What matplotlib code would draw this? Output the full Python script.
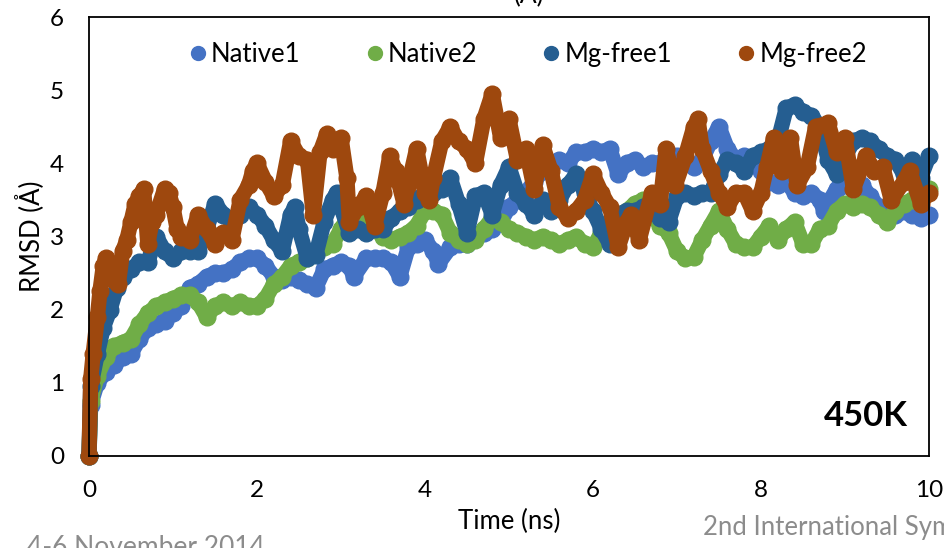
import matplotlib.pyplot as plt
from matplotlib.lines import Line2D

# RMSD traces, time in ns, RMSD in angstrom
native1_t = [0, 0.02, 0.1, 0.2, 0.3, 0.4, 0.5, 0.6, 0.7, 0.8, 0.9, 1.0, 1.1, 1.2, 1.3, 1.4, 1.5,
             1.6, 1.7, 1.8, 1.9, 2.0, 2.1, 2.2, 2.3, 2.4, 2.5, 2.6, 2.7, 2.8, 2.9, 3.0, 3.1, 3.15,
             3.3, 3.4, 3.5, 3.6, 3.7, 3.8, 3.9, 4.0, 4.1, 4.16, 4.3, 4.4, 4.5, 4.6, 4.7, 4.8, 4.9,
             5.0, 5.1, 5.2, 5.3, 5.4, 5.5, 5.6, 5.7, 5.8, 5.9, 6.0, 6.1, 6.2, 6.3, 6.4, 6.5, 6.6,
             6.7, 6.8, 6.9, 7.0, 7.1, 7.2, 7.3, 7.4, 7.5, 7.6, 7.7, 7.8, 7.9, 8.0, 8.1, 8.2, 8.3,
             8.4, 8.5, 8.6, 8.7, 8.75, 8.8, 8.9, 9.0, 9.1, 9.2, 9.3, 9.4, 9.5, 9.6, 9.7, 9.8, 9.9, 10.0]
native1 = [0, 0.7, 1.0, 1.15, 1.25, 1.35, 1.4, 1.6, 1.75, 1.8, 1.85, 1.95, 2.05, 2.3, 2.35, 2.45, 2.5,
           2.5, 2.55, 2.65, 2.7, 2.7, 2.6, 2.45, 2.4, 2.45, 2.4, 2.35, 2.3, 2.55, 2.6, 2.65, 2.6, 2.45,
           2.7, 2.7, 2.7, 2.65, 2.45, 2.85, 2.9, 2.95, 2.8, 2.63, 2.85, 2.9, 2.9, 3.0, 3.05, 3.1, 3.2,
           3.4, 3.5, 3.6, 3.75, 3.9, 4.0, 4.05, 4.0, 4.15, 4.15, 4.2, 4.15, 4.2, 3.85, 4.0, 4.05, 3.95,
           4.0, 4.0, 4.05, 4.1, 4.0, 3.95, 4.05, 4.3, 4.5, 4.2, 4.05, 4.1, 4.0, 3.9, 3.75, 3.7, 3.75,
           3.6, 3.55, 3.6, 3.5, 3.35, 3.45, 3.65, 3.7, 3.65, 3.7, 3.55, 3.4, 3.35, 3.3, 3.35, 3.3, 3.25, 3.3]

native2_t = [0, 0.02, 0.1, 0.2, 0.3, 0.4, 0.5, 0.6, 0.7, 0.8, 0.9, 1.0, 1.1, 1.2, 1.3, 1.4, 1.5,
             1.6, 1.7, 1.8, 1.9, 2.0, 2.1, 2.2, 2.3, 2.4, 2.5, 2.6, 2.7, 2.8, 2.9, 3.0, 3.1, 3.2,
             3.3, 3.4, 3.5, 3.6, 3.7, 3.8, 3.9, 4.0, 4.1, 4.2, 4.3, 4.4, 4.5, 4.6, 4.7, 4.8, 4.9,
             5.0, 5.1, 5.2, 5.3, 5.4, 5.5, 5.6, 5.7, 5.8, 5.9, 6.0, 6.1, 6.2, 6.3, 6.4, 6.5, 6.6,
             6.7, 6.8, 6.9, 7.0, 7.1, 7.2, 7.3, 7.4, 7.5, 7.6, 7.7, 7.8, 7.9, 8.0, 8.1, 8.2, 8.3,
             8.4, 8.5, 8.6, 8.7, 8.8, 8.9, 9.0, 9.1, 9.2, 9.3, 9.4, 9.5, 9.6, 9.7, 9.8, 9.9, 10.0]
native2 = [0, 0.75, 1.1, 1.35, 1.5, 1.55, 1.6, 1.8, 1.95, 2.05, 2.1, 2.15, 2.2, 2.2, 2.1, 1.9, 2.05,
           2.1, 2.05, 2.1, 2.05, 2.05, 2.15, 2.35, 2.45, 2.6, 2.65, 2.7, 2.8, 2.85, 2.9, 3.1, 3.3, 3.4,
           3.3, 3.1, 3.0, 2.95, 3.0, 3.05, 3.15, 3.35, 3.35, 3.3, 3.05, 2.95, 2.9, 2.95, 3.1, 3.25, 3.2,
           3.1, 3.05, 3.0, 2.95, 3.0, 2.95, 2.9, 2.95, 3.0, 2.9, 2.85, 3.05, 3.2, 3.3, 3.35, 3.45, 3.5,
           3.3, 3.15, 3.05, 2.8, 2.7, 2.72, 2.95, 3.15, 3.35, 3.1, 2.9, 2.85, 2.85, 3.0, 3.15, 2.95, 3.1,
           3.2, 2.9, 2.9, 3.1, 3.15, 3.35, 3.45, 3.4, 3.45, 3.4, 3.3, 3.2, 3.35, 3.45, 3.5, 3.6, 3.65]

mgfree1_t = [0, 0.02, 0.1, 0.17, 0.25, 0.33, 0.4, 0.5, 0.6, 0.7, 0.8, 0.9, 1.0, 1.1, 1.2, 1.3, 1.4,
             1.5, 1.6, 1.7, 1.8, 1.9, 2.0, 2.1, 2.2, 2.3, 2.4, 2.45, 2.5, 2.6, 2.7, 2.8, 2.9, 2.95,
             3.0, 3.1, 3.2, 3.3, 3.4, 3.5, 3.6, 3.7, 3.8, 3.9, 4.0, 4.1, 4.2, 4.3, 4.4, 4.5, 4.6,
             4.7, 4.8, 4.9, 5.0, 5.1, 5.2, 5.3, 5.4, 5.5, 5.6, 5.7, 5.8, 5.9, 6.0, 6.1, 6.2, 6.3,
             6.4, 6.5, 6.6, 6.7, 6.8, 6.9, 7.0, 7.1, 7.2, 7.3, 7.4, 7.5, 7.6, 7.7, 7.8, 7.9, 8.0,
             8.1, 8.2, 8.3, 8.4, 8.5, 8.6, 8.7, 8.8, 8.9, 9.0, 9.1, 9.2, 9.3, 9.4, 9.5, 9.6, 9.7,
             9.8, 9.9, 10.0]
mgfree1 = [0, 0.95, 1.4, 1.75, 2.0, 2.3, 2.45, 2.55, 2.65, 2.65, 3.0, 2.8, 2.7, 2.8, 2.8, 2.8, 3.1,
           3.45, 3.3, 3.2, 3.3, 3.4, 3.3, 3.15, 2.95, 2.8, 3.3, 3.4, 3.1, 2.7, 2.75, 3.2, 3.5, 3.6,
           3.4, 3.05, 3.1, 3.05, 3.1, 3.1, 3.25, 3.35, 3.4, 3.5, 3.6, 3.6, 3.65, 3.8, 3.45, 3.05, 3.55,
           3.6, 3.3, 3.7, 3.95, 3.6, 3.45, 3.3, 3.5, 3.35, 3.5, 3.7, 3.85, 3.6, 3.35, 3.1, 2.9, 3.3,
           3.35, 3.35, 3.4, 3.35, 3.25, 3.2, 3.55, 3.6, 3.55, 3.6, 3.6, 3.85, 4.05, 4.0, 3.9, 4.1, 4.15,
           4.2, 4.3, 4.75, 4.8, 4.7, 4.65, 4.5, 4.05, 3.85, 4.1, 4.3, 4.35, 4.3, 4.2, 4.1, 4.05, 3.85,
           4.05, 3.8, 4.1]

mgfree2_t = [0, 0.02, 0.05, 0.1, 0.13, 0.17, 0.2, 0.25, 0.3, 0.35, 0.4, 0.45, 0.5, 0.55, 0.6, 0.65,
             0.7, 0.75, 0.8, 0.9, 0.95, 1.0, 1.05, 1.1, 1.2, 1.3, 1.4, 1.5, 1.6, 1.7, 1.8, 1.9, 1.95,
             2.0, 2.1, 2.2, 2.3, 2.4, 2.5, 2.6, 2.67, 2.75, 2.83, 2.9, 3.0, 3.07, 3.1, 3.2, 3.3, 3.4,
             3.5, 3.58, 3.65, 3.75, 3.8, 3.9, 4.0, 4.05, 4.1, 4.2, 4.3, 4.4, 4.5, 4.6, 4.7, 4.8, 4.9,
             5.0, 5.1, 5.2, 5.3, 5.4, 5.5, 5.6, 5.7, 5.8, 5.9, 6.0, 6.1, 6.2, 6.3, 6.4, 6.45, 6.55,
             6.7, 6.8, 6.87, 6.98, 7.1, 7.2, 7.25, 7.3, 7.4, 7.5, 7.6, 7.7, 7.8, 7.9, 8.0, 8.07, 8.15,
             8.25, 8.35, 8.43, 8.55, 8.65, 8.8, 8.9, 9.0, 9.1, 9.25, 9.35, 9.45, 9.55, 9.7, 9.77,
             9.9, 10.0]
mgfree2 = [0, 1.05, 1.4, 1.9, 2.25, 2.6, 2.7, 2.6, 2.4, 2.35, 2.8, 2.95, 3.2, 3.45, 3.55, 3.65,
           2.9, 3.2, 3.3, 3.65, 3.6, 3.4, 3.1, 3.0, 2.95, 3.3, 3.1, 2.9, 3.05, 2.95, 3.5, 3.7, 3.9,
           4.0, 3.75, 3.55, 3.7, 4.3, 4.1, 4.05, 3.3, 4.15, 4.4, 4.2, 4.35, 3.8, 3.2, 3.4, 3.55, 3.15,
           3.6, 4.1, 3.9, 3.45, 3.7, 4.2, 3.6, 3.5, 3.8, 4.3, 4.5, 4.3, 4.2, 4.0, 4.6, 4.95, 4.35,
           4.6, 4.05, 4.2, 3.65, 4.25, 3.9, 3.4, 3.25, 3.35, 3.5, 3.85, 3.6, 3.4, 2.85, 3.2, 3.3, 2.95,
           3.6, 3.45, 4.2, 3.7, 4.1, 4.5, 4.6, 4.2, 3.9, 3.6, 3.4, 3.6, 3.6, 3.35, 3.6, 3.95, 4.35,
           3.9, 4.35, 3.7, 3.95, 4.5, 4.55, 4.15, 4.35, 3.65, 4.1, 3.9, 3.95, 3.5, 3.75, 3.9,
           3.45, 3.6]

labels = ['Native1', 'Native2', 'Mg-free1', 'Mg-free2']
colors = ['#4472C4', '#70AD47', '#255E91', '#9E480E']

plt.rcParams['font.family'] = ['Lato', 'DejaVu Sans']

fig = plt.figure(figsize=(9.44, 5.48), dpi=100)
ax = fig.add_axes([89 / 944, 1 - 456 / 548, 840 / 944, 439 / 548])

series = [(native1_t, native1), (native2_t, native2), (mgfree1_t, mgfree1), (mgfree2_t, mgfree2)]
for (t, v), c in zip(series, colors):
    ax.plot(t, v, color=c, lw=11, marker='o', ms=12, solid_capstyle='round',
            solid_joinstyle='round', clip_on=False)

ax.set_xlim(0, 10)
ax.set_ylim(0, 6)
ax.set_xticks(range(0, 11, 2))
ax.set_yticks(range(0, 7))
ax.tick_params(length=0, labelsize=17.5)
ax.tick_params(axis='x', pad=17)
ax.tick_params(axis='y', pad=18)
for s in ax.spines.values():
    s.set_color('black')
    s.set_linewidth(1.3)

ax.set_xlabel('Time (ns)', fontsize=18.5, labelpad=6)
ax.set_ylabel('RMSD (Å)', fontsize=18.5, labelpad=4)

handles = [Line2D([], [], ls='none', marker='o', ms=10, color=c) for c in colors]
ax.legend(handles, labels, loc='upper center', bbox_to_anchor=(0.52, 0.995), ncol=4,
          frameon=False, fontsize=18.5, handletextpad=0.0, columnspacing=2.4,
          handlelength=1.0)

ax.text(0.975, 0.09, '450K', transform=ax.transAxes, ha='right', va='center',
        fontsize=25, fontweight='bold')

# slide fragments cut by the crop, as in the source screenshot
fig.text(0.56, 1.008, '(A)', ha='center', va='center', fontsize=18)
fig.text(703 / 944, 1 - 528 / 548, '2nd International Sym', ha='left', va='center',
         fontsize=18.5, color='#8c8c8c')
fig.text(27 / 944, 1 - 535 / 548, '4-6 November 2014', ha='left', va='top',
         fontsize=19, color='#8c8c8c')

fig.savefig('out.png', dpi=100)
